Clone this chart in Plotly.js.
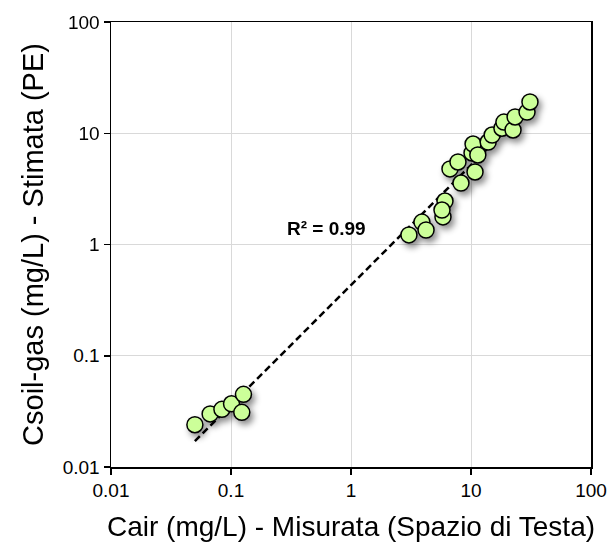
<!DOCTYPE html>
<html>
<head>
<meta charset="utf-8">
<script src="https://cdn.plot.ly/plotly-3.0.1.min.js"></script>
<style>
  html, body { margin: 0; padding: 0; background: #fff; }
  #chart { width: 608px; height: 546px; }
</style>
</head>
<body>
<div id="chart"></div>
<script>
// Measured (headspace) concentrations, mg/L
const cairMeasured = [
  0.050, 0.067, 0.084, 0.101, 0.127, 0.123,
  3.04, 3.9, 4.22, 5.84, 6.07, 5.73, 8.25, 6.68, 7.79, 10.8, 10.2, 10.4,
  11.4, 13.9, 15.0, 18.1, 18.8, 22.4, 23.3, 29.3, 31.0
];
// Estimated soil-gas concentrations (PE), mg/L
const csoilEstimated = [
  0.024, 0.030, 0.033, 0.037, 0.045, 0.031,
  1.22, 1.59, 1.35, 1.77, 2.46, 2.04, 3.57, 4.78, 5.52, 4.49, 6.65, 8.0,
  6.38, 8.34, 9.64, 11.1, 12.6, 10.7, 14.0, 15.5, 19.1
];
// Power trendline endpoints
const trendX = [0.05, 31];
const trendY = [0.0171, 17.5];
const r2Label = "R² = 0.99";
const r2Pos = [0.62, 1.38];
const tickVals = [0.01, 0.1, 1, 10, 100];
const tickText = ["0.01", "0.1", "1", "10", "100"];

const font = "Liberation Sans, Arial, sans-serif";

const traces = [
  {
    x: trendX, y: trendY, type: "scatter", mode: "lines",
    line: { color: "#000", width: 2.5, dash: "7px,4px" },
    hoverinfo: "skip", showlegend: false
  },
  {
    x: cairMeasured, y: csoilEstimated, type: "scatter", mode: "markers",
    marker: { size: 16, color: "#ccff99", line: { color: "#000", width: 1.5 } },
    showlegend: false
  }
];

const axisCommon = {
  type: "log",
  tickvals: tickVals, ticktext: tickText,
  showgrid: true, gridcolor: "#d9d9d9", gridwidth: 1,
  showline: true, linecolor: "#000", linewidth: 1.5, mirror: true,
  ticks: "outside", ticklen: 6, tickwidth: 1.5, tickcolor: "#000",
  tickfont: { family: font, size: 19, color: "#000" },
  zeroline: false
};

const layout = {
  width: 608, height: 546,
  margin: { l: 111, r: 17, t: 22, b: 79 },
  paper_bgcolor: "#fff", plot_bgcolor: "#fff",
  xaxis: Object.assign({}, axisCommon, {
    range: [-2, 2],
    title: { text: "Cair (mg/L) - Misurata (Spazio di Testa)", font: { family: font, size: 28, color: "#000" }, standoff: 16 }
  }),
  yaxis: Object.assign({}, axisCommon, {
    range: [-2, 2],
    title: { text: "Csoil-gas (mg/L) - Stimata (PE)", font: { family: font, size: 29, color: "#000" }, standoff: 10 }
  }),
  annotations: [{
    x: Math.log10(r2Pos[0]), y: Math.log10(r2Pos[1]), xref: "x", yref: "y",
    text: "<b>" + r2Label + "</b>", showarrow: false,
    font: { family: font, size: 19, color: "#000" }
  }]
};

Plotly.newPlot("chart", traces, layout, { displayModeBar: false, staticPlot: true }).then(() => {
  const traceGroups = document.querySelectorAll(".scatterlayer .trace");
  if (traceGroups.length > 1) {
    traceGroups[1].style.filter = "drop-shadow(3px 4px 3px rgba(0,0,0,0.45))";
  }
});
</script>
</body>
</html>
